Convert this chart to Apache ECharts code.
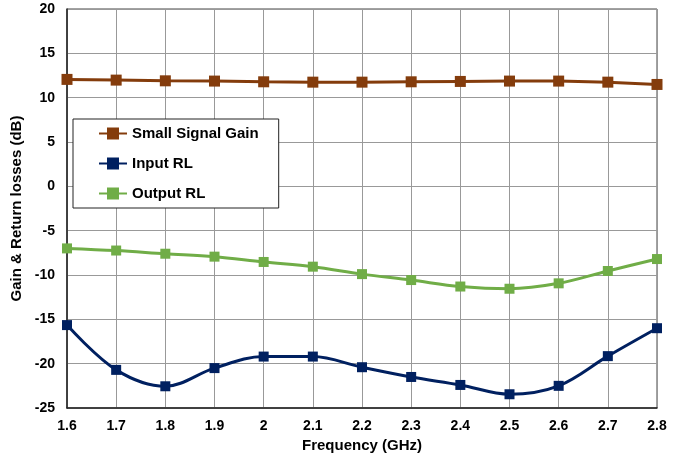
<!DOCTYPE html>
<html><head><meta charset="utf-8">
<script src="https://cdn.jsdelivr.net/npm/echarts@6/dist/echarts.min.js"></script>
<style>html,body{margin:0;padding:0;background:#fff}#c{width:681px;height:454px}</style>
</head><body><div id="c"></div>
<script>
const frequencies = ['1.6','1.7','1.8','1.9','2','2.1','2.2','2.3','2.4','2.5','2.6','2.7','2.8'];
const smallSignalGain = [12.06, 11.98, 11.9, 11.87, 11.79, 11.75, 11.75, 11.79, 11.83, 11.87, 11.87, 11.75, 11.49];
const inputRL = [-15.65, -20.7, -22.55, -20.5, -19.2, -19.2, -20.4, -21.5, -22.4, -23.45, -22.5, -19.15, -16.0];
const outputRL = [-7.0, -7.24, -7.6, -7.93, -8.53, -9.06, -9.9, -10.57, -11.3, -11.55, -10.94, -9.55, -8.2];

const chart = echarts.init(document.getElementById('c'), null, {renderer: 'canvas'});
const font = 'Liberation Sans, Arial, sans-serif';
chart.setOption({
  animation: false,
  backgroundColor: '#fff',
  grid: {left: 67, right: 24, top: 9, bottom: 46, show: true, borderColor: '#444', borderWidth: 1,
         containLabel: false, outerBoundsMode: 'none'},
  legend: {
    orient: 'vertical', left: 73, top: 119,
    padding: [7, 20, 7, 25], itemGap: 15, itemWidth: 28, itemHeight: 15,
    borderColor: '#222', borderWidth: 1, backgroundColor: '#fff',
    textStyle: {fontFamily: font, fontWeight: 'bold', fontSize: 15, color: '#000'},
    data: ['Small Signal Gain', 'Input RL', 'Output RL']
  },
  xAxis: {
    type: 'category', data: frequencies, boundaryGap: false,
    name: 'Frequency (GHz)', nameLocation: 'middle', nameGap: 27,
    nameTextStyle: {fontFamily: font, fontWeight: 'bold', fontSize: 15, color: '#000'},
    axisLine: {onZero: false, lineStyle: {color: '#222', width: 1.5}},
    axisTick: {show: false},
    axisLabel: {fontFamily: font, fontWeight: 'bold', fontSize: 14, color: '#000', margin: 11},
    splitLine: {show: true, lineStyle: {color: '#999', width: 1}}
  },
  yAxis: {
    type: 'value', min: -25, max: 20, interval: 5,
    name: 'Gain & Return losses (dB)', nameLocation: 'middle', nameGap: 37, nameRotate: 90,
    nameTextStyle: {fontFamily: font, fontWeight: 'bold', fontSize: 15, color: '#000'},
    axisLine: {show: true, onZero: false, lineStyle: {color: '#222', width: 1.5}},
    axisTick: {show: false},
    axisLabel: {fontFamily: font, fontWeight: 'bold', fontSize: 14, color: '#000', margin: 12},
    splitLine: {show: true, lineStyle: {color: '#999', width: 1}}
  },
  series: [
    {name: 'Small Signal Gain', type: 'line', data: smallSignalGain, symbol: 'rect', symbolSize: 11,
     itemStyle: {color: '#843C0C'}, lineStyle: {color: '#843C0C', width: 3}},
    {name: 'Input RL', type: 'line', data: inputRL, symbol: 'rect', symbolSize: 10, smooth: 0.35,
     itemStyle: {color: '#002060'}, lineStyle: {color: '#002060', width: 3}},
    {name: 'Output RL', type: 'line', data: outputRL, symbol: 'rect', symbolSize: 10, smooth: 0.35,
     itemStyle: {color: '#70AD47'}, lineStyle: {color: '#70AD47', width: 3}}
  ]
});
</script></body></html>
